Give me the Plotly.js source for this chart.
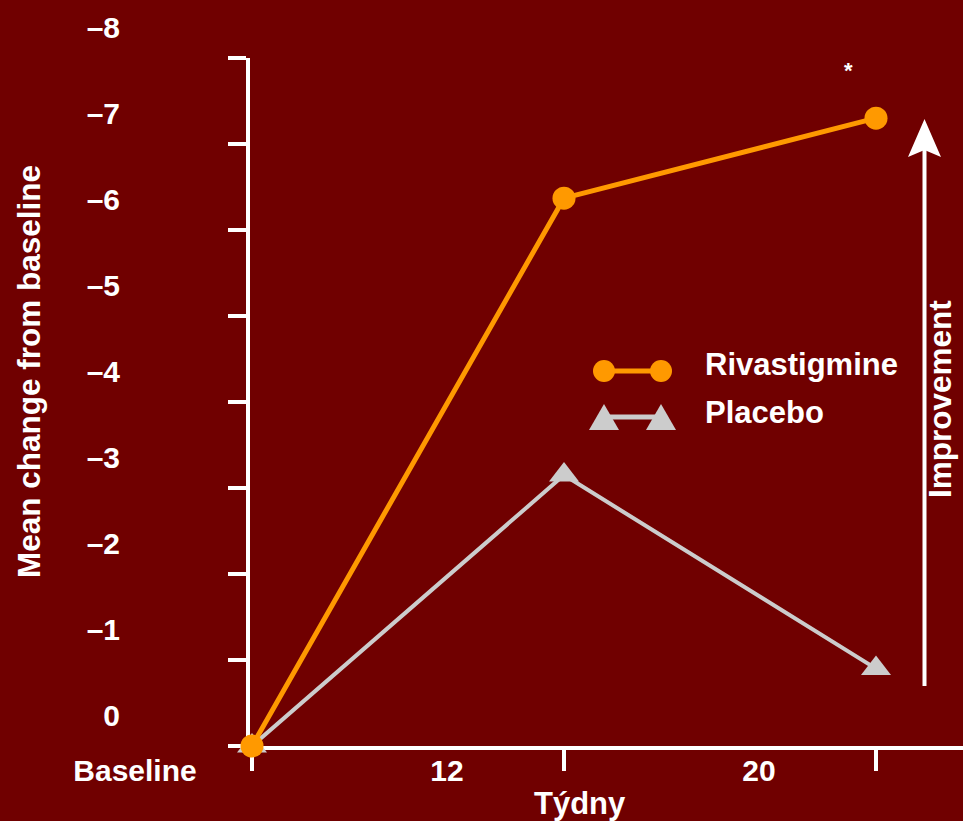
<!DOCTYPE html>
<html>
<head>
<meta charset="utf-8">
<script src="https://cdn.plot.ly/plotly-3.0.1.min.js"></script>
<style>html,body{margin:0;padding:0;background:#700000;}#chart{width:963px;height:821px;}</style>
</head>
<body>
<div id="chart"></div>
<script>
// ---- data ----
const weeks = ["Baseline", "12", "20"];
const weekPos = [0, 1, 2];
const rivastigmine = [0, -6.37, -7.3];
const placebo = [0, -3.15, -0.9];
const yTickVals = [0, -1, -2, -3, -4, -5, -6, -7, -8];
const yTickText = ["0", "–1", "–2", "–3", "–4", "–5", "–6", "–7", "–8"];
const seriesNames = ["Rivastigmine", "Placebo"];

// ---- layout constants ----
const W = 963, H = 821;
const L = 250, R = 0, T = 58, B = 75;
const plotW = W - L - R, plotH = H - T - B;
const px = x => (x - L) / plotW;          // pixel -> paper x
const py = y => (H - B - y) / plotH;      // pixel -> paper y

const BG = "#700000";
const ORANGE = "#FF9900";
const GREY = "#CCCCCC";
const FONT = "Liberation Sans, Arial, sans-serif";

const traces = [
  {
    x: weekPos, y: placebo, name: seriesNames[1], type: "scatter", mode: "lines+markers",
    line: {color: GREY, width: 4},
    marker: {symbol: "triangle-up", size: 26, color: GREY},
    cliponaxis: false, showlegend: false
  },
  {
    x: weekPos, y: rivastigmine, name: seriesNames[0], type: "scatter", mode: "lines+markers",
    line: {color: ORANGE, width: 5},
    marker: {symbol: "circle", size: 23, color: ORANGE},
    cliponaxis: false, showlegend: false
  }
];

const white = "#FFFFFF";
const shapes = [
  // legend: rivastigmine
  {type: "line", xref: "paper", yref: "paper", x0: px(604), x1: px(661), y0: py(371), y1: py(371), line: {color: ORANGE, width: 5}},
  {type: "circle", xref: "paper", yref: "paper", x0: px(593), x1: px(615), y0: py(382), y1: py(360), fillcolor: ORANGE, line: {width: 0}},
  {type: "circle", xref: "paper", yref: "paper", x0: px(650), x1: px(672), y0: py(382), y1: py(360), fillcolor: ORANGE, line: {width: 0}},
  // legend: placebo
  {type: "line", xref: "paper", yref: "paper", x0: px(604), x1: px(661), y0: py(417), y1: py(417), line: {color: GREY, width: 5}},
  {type: "path", xref: "paper", yref: "paper",
   path: `M${px(589)},${py(430)} L${px(604)},${py(404)} L${px(619)},${py(430)} Z`, fillcolor: GREY, line: {width: 0}},
  {type: "path", xref: "paper", yref: "paper",
   path: `M${px(646)},${py(430)} L${px(661)},${py(404)} L${px(676)},${py(430)} Z`, fillcolor: GREY, line: {width: 0}},
  // improvement arrow
  {type: "line", xref: "paper", yref: "paper", x0: px(924.5), x1: px(924.5), y0: py(686), y1: py(150), line: {color: white, width: 4}},
  {type: "path", xref: "paper", yref: "paper",
   path: `M${px(924.5)},${py(119)} L${px(941)},${py(157)} L${px(924.5)},${py(150)} L${px(908)},${py(157)} Z`,
   fillcolor: white, line: {width: 0}}
];

const annFont = {family: FONT, size: 31, color: white, weight: "bold"};
const vFont = {family: FONT, size: 31.5, color: white, weight: "bold"};
const annotations = [
  {text: "Mean change from baseline", xref: "paper", yref: "paper", x: px(29), y: py(372),
   textangle: -90, showarrow: false, xanchor: "center", yanchor: "middle", font: vFont},
  {text: "Týdny", xref: "paper", yref: "paper", x: px(580), y: py(803),
   showarrow: false, xanchor: "center", yanchor: "middle", font: annFont},
  {text: "Improvement", xref: "paper", yref: "paper", x: px(940), y: py(399),
   textangle: -90, showarrow: false, xanchor: "center", yanchor: "middle", font: vFont},
  {text: seriesNames[0], xref: "paper", yref: "paper", x: px(703), y: py(364),
   showarrow: false, xanchor: "left", yanchor: "middle", font: annFont},
  {text: seriesNames[1], xref: "paper", yref: "paper", x: px(703), y: py(412),
   showarrow: false, xanchor: "left", yanchor: "middle", font: annFont},
  {text: "*", xref: "x", yref: "y", x: 1.913, y: -7.85,
   showarrow: false, xanchor: "center", yanchor: "middle", font: {family: FONT, size: 22, color: white, weight: "bold"}}
];

const layout = {
  width: W, height: H,
  margin: {l: L, r: R, t: T, b: B, pad: 0},
  paper_bgcolor: BG, plot_bgcolor: BG,
  showlegend: false,
  xaxis: {
    range: [(L - 252) / 312, (W - 252) / 312],
    tickvals: weekPos, ticktext: weeks,
    showgrid: false, zeroline: false,
    showline: true, linecolor: white, linewidth: 4,
    ticks: "outside", ticklen: 21, tickwidth: 4, tickcolor: white,
    tickfont: {family: FONT, size: 30, color: white, weight: "bold"},
    ticklabelshift: -117, ticklabelstandoff: -26,
    layer: "below traces",
    fixedrange: true
  },
  yaxis: {
    range: [0, -8],
    tickvals: yTickVals, ticktext: yTickText,
    showgrid: false, zeroline: false,
    showline: true, linecolor: white, linewidth: 4,
    ticks: "outside", ticklen: 18, tickwidth: 4, tickcolor: white,
    tickfont: {family: FONT, size: 30, color: white, weight: "bold"},
    ticklabelshift: 31, ticklabelstandoff: 102,
    layer: "below traces",
    fixedrange: true
  },
  shapes: shapes,
  annotations: annotations
};

Plotly.newPlot("chart", traces, layout, {displayModeBar: false, staticPlot: true});
</script>
</body>
</html>
